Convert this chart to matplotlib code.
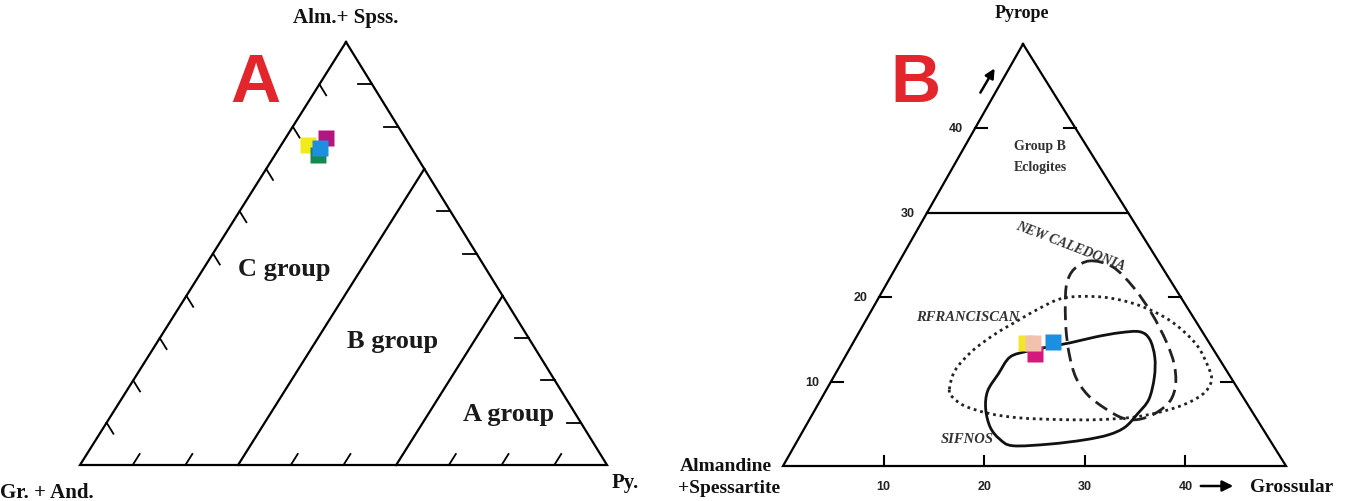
import numpy as np
import matplotlib
matplotlib.use("Agg")
import matplotlib.pyplot as plt
from matplotlib.path import Path
from matplotlib.patches import PathPatch, FancyArrowPatch

# ---------------- data ----------------
# Diagram A : (Alm+Spss, Gr+And, Py) in %
a_colors = ["#b3177f", "#f3ea1c", "#168a4e", "#1d8fe0"]
a_alm = [77.3, 75.7, 73.3, 74.9]
a_gr = [15.0, 19.2, 18.5, 17.4]
a_py = [7.7, 5.1, 8.2, 7.7]
a_ticks = [10, 20, 30, 40, 50, 60, 70, 80, 90]
a_group_bounds = [30, 60]          # Py % boundaries between groups
a_group_names = ["C group", "B group", "A group"]

# Diagram B : (Grossular %, Pyrope %), Alm+Sps = rest
b_colors = ["#f3e62a", "#d5187a", "#f1c3ae", "#1b8fe0"]
b_gro = [17.2, 18.7, 17.9, 19.85]
b_pyr = [14.6, 13.3, 14.6, 14.75]
b_tick_values = [10, 20, 30, 40]
b_group_b_limit = 30

sifnos_gro = [16.4, 17.8, 19.2, 21.6, 23.8, 26.0, 27.9, 29.3, 30.8, 31.9, 32.6, 32.3,
              31.8, 30.6, 28.5, 25.3, 21.7, 20.0, 18.4, 16.9, 16.1, 16.2]
sifnos_pyr = [12.9, 13.6, 14.0, 14.6, 15.3, 15.8, 15.9, 15.0, 12.9, 10.5, 7.9, 6.2,
              4.6, 3.7, 3.1, 2.6, 2.4, 3.2, 4.6, 6.8, 8.9, 10.9]

newcal_gro = [18.9, 21.5, 24.7, 28.0, 31.1, 33.1, 34.4, 34.8, 34.0, 32.6, 31.0, 28.8,
              26.3, 24.1, 22.1, 20.4, 18.9, 17.9, 17.8]
newcal_pyr = [24.3, 23.6, 21.2, 18.1, 14.7, 12.1, 9.7, 7.7, 6.2, 5.5, 5.7, 6.8,
              8.4, 10.5, 13.3, 16.2, 19.2, 21.6, 23.3]

francis_gro = [12.2, 11.7, 12.3, 13.6, 15.1, 16.6, 18.1, 20.1, 23.0, 26.4, 30.3, 34.1,
               36.7, 37.8, 37.6, 35.9, 32.7, 28.9, 24.9, 20.8, 17.6, 14.7, 12.9]
francis_pyr = [9.1, 11.3, 13.6, 15.6, 17.2, 18.7, 19.8, 20.1, 19.9, 19.0, 17.2, 14.5,
               11.7, 10.0, 8.4, 7.0, 5.9, 5.5, 5.5, 5.7, 6.2, 7.1, 8.2]

# ---------------- layout ----------------
W, H = 1346, 502
A_T, A_L, A_R = np.array([346, 43.]), np.array([80, 466.]), np.array([607, 466.])
B_T, B_L, B_R = np.array([1023, 45.]), np.array([783, 467.]), np.array([1286, 467.])
B_MAX = 50.0

def tern_a(alm, gr, py):
    alm, gr, py = np.asarray(alm) / 100, np.asarray(gr) / 100, np.asarray(py) / 100
    x = alm * A_T[0] + gr * A_L[0] + py * A_R[0]
    y = alm * A_T[1] + gr * A_L[1] + py * A_R[1]
    return x, y

def tern_b(g, p):
    v = np.asarray(g, float) / B_MAX
    u = np.asarray(p, float) / B_MAX
    w = 1 - u - v
    x = w * B_L[0] + v * B_R[0] + u * B_T[0]
    y = w * B_L[1] + v * B_R[1] + u * B_T[1]
    return x, y

def closed_smooth(x, y):
    P = np.column_stack([x, y])
    n = len(P)
    verts = [P[0]]
    codes = [Path.MOVETO]
    for i in range(n):
        p0, p1, p2, p3 = P[i - 1], P[i], P[(i + 1) % n], P[(i + 2) % n]
        c1 = p1 + (p2 - p0) / 6.0
        c2 = p2 - (p3 - p1) / 6.0
        verts += [c1, c2, p2]
        codes += [Path.CURVE4] * 3
    return Path(verts, codes)

fig = plt.figure(figsize=(W / 100, H / 100), dpi=100)
ax = fig.add_axes([0, 0, 1, 1])
ax.set_xlim(0, W)
ax.set_ylim(H, 0)
ax.axis("off")

LW = 1.6
serif = ["Liberation Serif", "DejaVu Serif"]

# ================= Diagram A =================
tri = np.array([A_T, A_L, A_R, A_T])
ax.plot(tri[:, 0], tri[:, 1], color="black", lw=LW, solid_joinstyle="miter")

d = 2.6
for t in a_ticks:
    # left side (py = 0), tick parallel to right side
    x, y = tern_a([100 - t, 100 - t - d], [t, t], [0, d])
    ax.plot(x, y, color="black", lw=1.3)
    if t not in a_group_bounds:
        # base (alm = 0), tick parallel to left side
        x, y = tern_a([0, d], [100 - t, 100 - t - d], [t, t])
        ax.plot(x, y, color="black", lw=1.3)
        # right side (gr = 0), tick parallel to base
        x, y = tern_a([100 - t, 100 - t], [0, d], [t, t - d])
        ax.plot(x, y, color="black", lw=1.3)

for b in a_group_bounds:
    x, y = tern_a([0, 100 - b], [100 - b, 0], [b, b])
    ax.plot(x, y, color="black", lw=LW)

for c, al, g, p in zip(a_colors, a_alm, a_gr, a_py):
    x, y = tern_a(al, g, p)
    ax.plot(x, y, marker="s", ms=11.5, color=c, mec="none", ls="none")

gfont = dict(family=serif, fontweight="bold", fontsize=19, color="#1a1a1a")
ax.text(284, 270, a_group_names[0], ha="center", va="center", **gfont)
ax.text(393, 342, a_group_names[1], ha="center", va="center", **gfont)
ax.text(509, 415, a_group_names[2], ha="center", va="center", **gfont)

lfont = dict(family=serif, fontweight="bold", color="#111111")
ax.text(346, 18, "Alm.+ Spss.", ha="center", va="center", fontsize=15, **lfont)
ax.text(0, 493, "Gr. + And.", ha="left", va="center", fontsize=15, **lfont)
ax.text(612, 483, "Py.", ha="left", va="center", fontsize=15, **lfont)

ax.text(255, 84, "A", ha="center", va="center", fontsize=50, color="#e3262b",
        family=["Liberation Sans", "DejaVu Sans"], fontweight="bold")

# ================= Diagram B =================
tri = np.array([B_T, B_L, B_R, B_T])
ax.plot(tri[:, 0], tri[:, 1], color="black", lw=LW, solid_joinstyle="miter")

# Group B eclogite limit
x, y = tern_b([0, B_MAX - b_group_b_limit], [b_group_b_limit, b_group_b_limit])
ax.plot(x, y, color="black", lw=LW)

nfont = dict(family=["Liberation Sans", "DejaVu Sans"], fontweight="bold",
             fontsize=9, color="#222222")
for t in b_tick_values:
    # bottom ticks
    x, y = tern_b([t, t], [0, 0])
    ax.plot([x[0], x[0]], [y[0], y[0] - 10], color="black", lw=1.5)
    ax.text(x[0], y[0] + 20, str(t), ha="center", va="center", **nfont)
    # left labels
    x, y = tern_b([0], [t])
    ax.text(x[0] - 12, y[0], str(t), ha="right", va="center", **nfont)
    if t != b_group_b_limit:
        ax.plot([x[0], x[0] + 12], [y[0], y[0]], color="black", lw=1.5)
        x, y = tern_b([B_MAX - t], [t])
        ax.plot([x[0] - 12, x[0]], [y[0], y[0]], color="black", lw=1.5)

# fields
ax.add_patch(PathPatch(closed_smooth(*tern_b(francis_gro, francis_pyr)), fill=False,
                       lw=2.0, ls=(0, (1.0, 1.4)), color="#222222"))
ax.add_patch(PathPatch(closed_smooth(*tern_b(newcal_gro, newcal_pyr)), fill=False,
                       lw=2.0, ls=(0, (5, 2.5)), color="#222222"))
ax.add_patch(PathPatch(closed_smooth(*tern_b(sifnos_gro, sifnos_pyr)), fill=False,
                       lw=2.0, color="#111111"))

for c, g, p in zip(b_colors, b_gro, b_pyr):
    x, y = tern_b(g, p)
    ax.plot(x, y, marker="s", ms=12, color=c, mec="none", ls="none")

ifont = dict(family=serif, fontweight="bold", style="italic", color="#333333")
ax.text(1070, 246, "NEW CALEDONIA", ha="center", va="center", rotation=-21,
        fontsize=10, **ifont)
ax.text(968, 318, "RFRANCISCAN", ha="center", va="center", fontsize=10.5, **ifont)
ax.text(967, 440, "SIFNOS", ha="center", va="center", fontsize=10.5, **ifont)

sfont = dict(family=serif, fontweight="bold", color="#333333", fontsize=10)
ax.text(1040, 147, "Group B", ha="center", va="center", **sfont)
ax.text(1040, 168, "Eclogites", ha="center", va="center", **sfont)

ax.text(1022, 14, "Pyrope", ha="center", va="center", fontsize=13, **lfont)
ax.text(726, 467, "Almandine", ha="center", va="center", fontsize=14, **lfont)
ax.text(729, 489, "+Spessartite", ha="center", va="center", fontsize=14, **lfont)
ax.text(1292, 488, "Grossular", ha="center", va="center", fontsize=14, **lfont)

ax.add_patch(FancyArrowPatch((1198, 487), (1236, 487), arrowstyle="-|>",
                             mutation_scale=16, lw=1.8, color="black"))
ax.add_patch(FancyArrowPatch((979, 96), (996, 67), arrowstyle="-|>",
                             mutation_scale=14, lw=1.8, color="black"))

ax.text(915, 84, "B", ha="center", va="center", fontsize=50, color="#e3262b",
        family=["Liberation Sans Narrow", "Liberation Sans", "DejaVu Sans"],
        fontweight="bold")

fig.savefig("out.png", dpi=100, facecolor="white")
